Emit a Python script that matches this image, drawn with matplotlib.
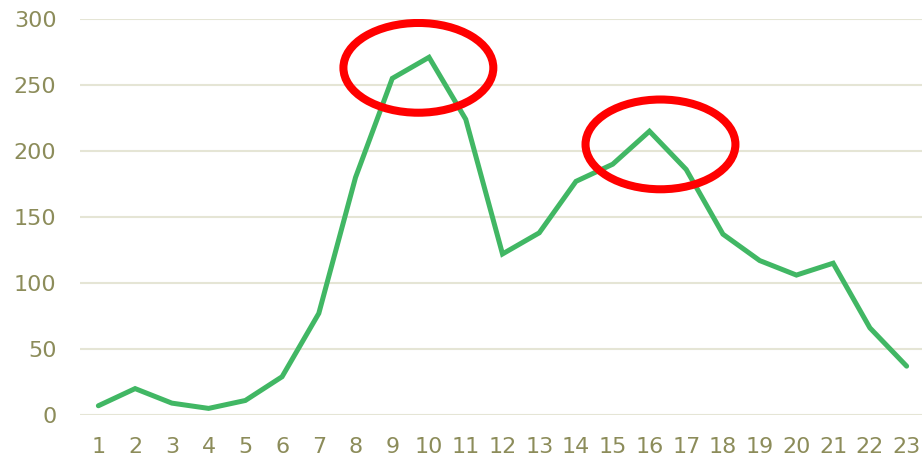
import matplotlib
matplotlib.use("Agg")
import matplotlib.pyplot as plt
from matplotlib.patches import Ellipse

# hourly values
hours = list(range(1, 24))
values = [7, 20, 9, 5, 11, 29, 77, 180, 255, 271, 224, 122, 138, 177,
          190, 215, 186, 137, 117, 106, 115, 66, 37]

# highlighted peaks (centre x, centre y)
peaks = [(9.71, 263), (16.3, 205)]

fig = plt.figure(figsize=(9.22, 4.58), dpi=100)
ax = fig.add_axes([80 / 922, 43 / 458, 845 / 922, 396 / 458])

ax.plot(hours, values, color="#41B764", linewidth=3.6,
        solid_joinstyle="miter", solid_capstyle="round", zorder=3)

for cx, cy in peaks:
    ax.add_patch(Ellipse((cx, cy), width=4.08, height=68, fill=False,
                         edgecolor="#FF0000", linewidth=5.8, zorder=4))

ax.set_xlim(0.5, 23.5)
ax.set_ylim(0, 300)
ax.set_xticks(hours)
ax.set_yticks(range(0, 301, 50))

ax.grid(axis="y", color="#E5E5D5", linewidth=1.5)
ax.set_axisbelow(True)
for s in ax.spines.values():
    s.set_visible(False)

ax.tick_params(axis="both", length=0, labelsize=16, labelcolor="#8C8C5A")
ax.tick_params(axis="y", pad=17)
ax.tick_params(axis="x", pad=16)

fig.savefig("out.png", dpi=100)
